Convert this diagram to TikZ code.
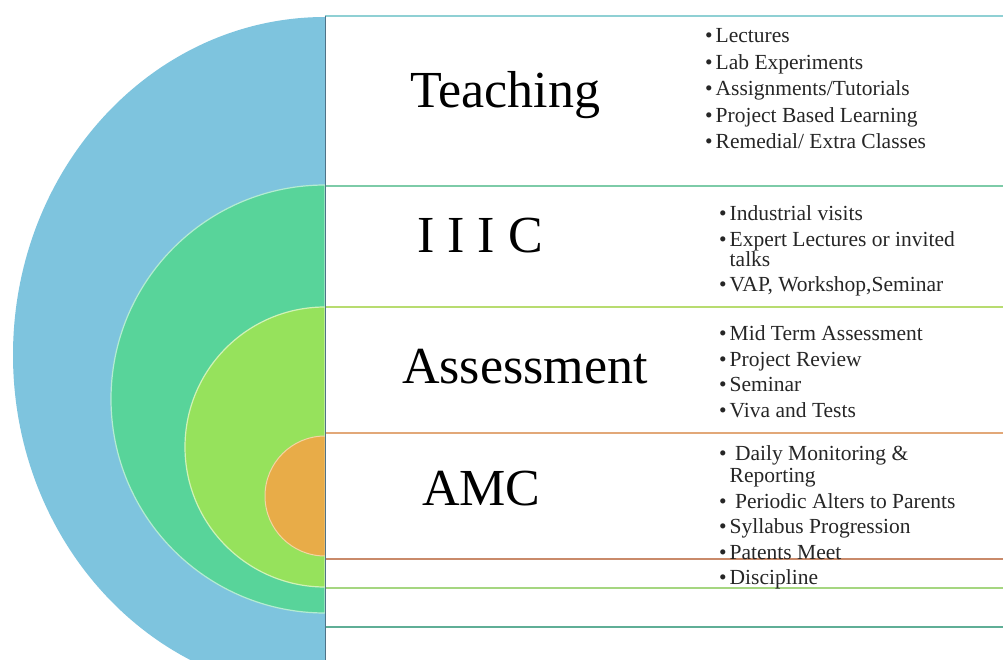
\documentclass[tikz,border=0pt]{standalone}
\usepackage{fontspec}
\setmainfont{Liberation Serif}

\definecolor{ringblue}{HTML}{7EC4DE}
\definecolor{ringgreen}{HTML}{58D49A}
\definecolor{ringlime}{HTML}{96E25C}
\definecolor{ringorange}{HTML}{E8AC48}
\newcommand{\itembul}{\textbullet\kern3pt}

\begin{document}
\begin{tikzpicture}[
        x=1pt, y=-1pt,
    ]

    \tikzstyle{heading} = [anchor=base west, inner sep=0pt, text=black,
                           font=\fontsize{52}{60}\selectfont]
    \tikzstyle{items} = [anchor=north west, inner sep=0pt, align=left, text=black!85,
                         font=\fontsize{21.5}{25.5}\selectfont]
    \tikzstyle{band} = [line width=1.6pt]

    \clip (0,0) rectangle (1003,660);
    \fill[white] (0,0) rectangle (1003,660);

    % Rings
    \fill[ringblue] (325,17) arc[start angle=270, end angle=90, x radius=312, y radius=338] -- cycle;
    \filldraw[ringgreen, draw=ringgreen!45!white, line width=1.2pt]
        (325,185) arc[start angle=270, end angle=90, radius=214] -- cycle;
    \filldraw[ringlime, draw=ringlime!45!white, line width=1.2pt]
        (325,307) arc[start angle=270, end angle=90, radius=140] -- cycle;
    \filldraw[ringorange, draw=ringorange!50!white, line width=1pt]
        (325,436) arc[start angle=270, end angle=90, radius=60] -- cycle;

    % Bands
    \draw[band, color={rgb,255:red,143;green,208;blue,212}] (325,16) -- (1003,16);
    \draw[band, color={rgb,255:red,125;green,203;blue,168}] (325,186) -- (1003,186);
    \draw[band, color={rgb,255:red,184;green,220;blue,112}] (325,307) -- (1003,307);
    \draw[band, color={rgb,255:red,226;green,168;blue,120}] (325,433) -- (1003,433);
    \draw[band, color={rgb,255:red,201;green,138;blue,106}] (325,559) -- (1003,559);
    \draw[band, color={rgb,255:red,165;green,214;blue,128}] (325,588) -- (1003,588);
    \draw[band, color={rgb,255:red,95;green,174;blue,150}] (325,627) -- (1003,627);
    \draw[line width=1pt, color={rgb,255:red,79;green,115;blue,136}] (325,16) -- (325,660);

    % Nodes
    \node[heading] (teaching) at (410,108) {Teaching};
    \node[heading] (iiic) at (417,253) {I I I C};
    \node[heading] (assessment) at (402,383) {Assessment};
    \node[heading] (amc) at (422,505) {AMC};

    \node[items] (teachlist) at (705,28.5) {\itembul Lectures\\[1pt]
        \itembul Lab Experiments\\[1pt]
        \itembul Assignments/Tutorials\\[1pt]
        \itembul Project Based Learning\\[1pt]
        \itembul Remedial/ Extra Classes};
    \node[items] (iiiclist) at (719,205.5) {\itembul Industrial visits\\
        \itembul Expert Lectures or invited\\[-5.5pt]
        \hphantom{\itembul}talks\\
        \itembul VAP, Workshop,Seminar};
    \node[items] (assesslist) at (719,325.5) {\itembul Mid Term Assessment\\
        \itembul Project Review\\
        \itembul Seminar\\
        \itembul Viva and Tests};
    \node[items] (amclist) at (719,445.5) {\itembul\ Daily Monitoring \&\\[-3.5pt]
        \hphantom{\itembul}Reporting\\
        \itembul\ Periodic Alters to Parents\\
        \itembul Syllabus Progression\\
        \itembul Patents Meet\\
        \itembul Discipline};

\end{tikzpicture}
\end{document}
